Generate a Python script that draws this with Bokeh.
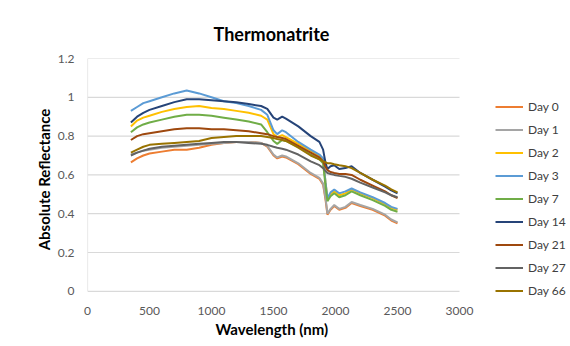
from bokeh.plotting import figure
from bokeh.models import (Legend, LegendItem, FixedTicker, CustomJSTickFormatter, Range1d, Title)
from bokeh.embed import file_html
from bokeh.resources import INLINE

wavelength = [350, 400, 450, 500, 600, 700, 800, 900, 1000, 1100, 1200, 1300, 1400, 1450,
              1500, 1530, 1570, 1600, 1700, 1800, 1870, 1900, 1920, 1935, 1960, 1990,
              2030, 2080, 2130, 2200, 2300, 2400, 2450, 2500]

day0 = [0.665, 0.685, 0.70, 0.71, 0.72, 0.73, 0.73, 0.74, 0.755, 0.765, 0.77, 0.77, 0.765, 0.745,
        0.70, 0.685, 0.695, 0.69, 0.655, 0.605, 0.58, 0.55, 0.47, 0.395, 0.42, 0.44,
        0.42, 0.43, 0.455, 0.44, 0.42, 0.39, 0.365, 0.35]
day1 = [0.705, 0.715, 0.725, 0.73, 0.74, 0.745, 0.75, 0.755, 0.76, 0.765, 0.77, 0.77, 0.765, 0.75,
        0.705, 0.69, 0.70, 0.695, 0.66, 0.61, 0.585, 0.555, 0.48, 0.40, 0.425, 0.445,
        0.425, 0.435, 0.46, 0.445, 0.425, 0.395, 0.37, 0.355]
day2 = [0.85, 0.88, 0.895, 0.905, 0.925, 0.94, 0.95, 0.955, 0.945, 0.94, 0.93, 0.92, 0.905, 0.885,
        0.81, 0.795, 0.805, 0.795, 0.76, 0.725, 0.70, 0.68, 0.56, 0.48, 0.50, 0.515,
        0.495, 0.505, 0.525, 0.505, 0.48, 0.45, 0.43, 0.42]
day3 = [0.93, 0.95, 0.97, 0.98, 1.0, 1.02, 1.035, 1.02, 1.0, 0.98, 0.97, 0.955, 0.935, 0.91,
        0.83, 0.81, 0.83, 0.82, 0.77, 0.73, 0.705, 0.685, 0.56, 0.48, 0.51, 0.525,
        0.505, 0.515, 0.53, 0.51, 0.485, 0.455, 0.435, 0.425]
day7 = [0.82, 0.845, 0.86, 0.87, 0.885, 0.90, 0.91, 0.91, 0.905, 0.895, 0.885, 0.875, 0.86, 0.82,
        0.775, 0.76, 0.78, 0.775, 0.745, 0.705, 0.68, 0.66, 0.54, 0.465, 0.49, 0.505,
        0.485, 0.495, 0.515, 0.495, 0.47, 0.44, 0.42, 0.41]
day14 = [0.87, 0.90, 0.92, 0.935, 0.955, 0.975, 0.99, 0.99, 0.985, 0.98, 0.975, 0.965, 0.955, 0.94,
         0.895, 0.885, 0.90, 0.89, 0.85, 0.80, 0.77, 0.73, 0.66, 0.63, 0.645, 0.65,
         0.63, 0.635, 0.645, 0.61, 0.575, 0.54, 0.52, 0.505]
day21 = [0.78, 0.80, 0.81, 0.815, 0.825, 0.835, 0.84, 0.84, 0.835, 0.835, 0.83, 0.825, 0.815, 0.81,
         0.80, 0.795, 0.79, 0.785, 0.75, 0.715, 0.69, 0.67, 0.64, 0.625, 0.615, 0.61,
         0.605, 0.605, 0.60, 0.575, 0.545, 0.515, 0.495, 0.48]
day27 = [0.70, 0.715, 0.725, 0.735, 0.745, 0.75, 0.755, 0.76, 0.765, 0.77, 0.77, 0.765, 0.76, 0.755,
         0.745, 0.74, 0.735, 0.73, 0.705, 0.67, 0.65, 0.635, 0.62, 0.61, 0.605, 0.60,
         0.595, 0.59, 0.58, 0.56, 0.535, 0.51, 0.495, 0.485]
day66 = [0.715, 0.73, 0.745, 0.755, 0.76, 0.765, 0.77, 0.775, 0.79, 0.795, 0.80, 0.80, 0.80, 0.795,
         0.79, 0.785, 0.78, 0.775, 0.74, 0.70, 0.68, 0.67, 0.665, 0.66, 0.66, 0.655,
         0.65, 0.645, 0.635, 0.61, 0.575, 0.545, 0.525, 0.51]

series_names = ["Day 0", "Day 1", "Day 2", "Day 3", "Day 7", "Day 14", "Day 21", "Day 27", "Day 66"]
series_values = [day0, day1, day2, day3, day7, day14, day21, day27, day66]
colors = ["#ED7D31", "#A5A5A5", "#FFC000", "#5B9BD5", "#70AD47", "#264478", "#9E480E", "#636363", "#997300"]

x_ticks = [0, 500, 1000, 1500, 2000, 2500, 3000]
y_ticks = [0, 0.2, 0.4, 0.6, 0.8, 1.0, 1.2]

FONT = "Lato"
X_MAX = 3000
Y_MAX = 1.2
# The plot frame also covers the legend area (right and a little below the axis).
# Axis scales: 0.124 px per nm, 194 px per reflectance unit.
FRAME_W = 570 - 87
FRAME_H = 300 - 58
x_end = FRAME_W / 0.124
y_start = Y_MAX - FRAME_H / 194.0

p = figure(width=570, height=346, output_backend="svg", toolbar_location=None,
           x_range=Range1d(0, x_end), y_range=Range1d(y_start, Y_MAX),
           min_border_left=87, min_border_right=0, min_border_top=58, min_border_bottom=46)
p.outline_line_color = None
p.background_fill_color = "white"
p.border_fill_color = "white"

p.title.text = "Thermonatrite"
p.title.align = "left"
p.title.offset = 126
p.title.text_font = FONT
p.title.text_font_size = "18px"
p.title.text_font_style = "bold"
p.title.text_color = "#000000"
p.title.standoff = 27

p.xgrid.visible = False
p.ygrid.visible = False
# horizontal gridlines over the 0-3000 axis extent, and the vertical axis line
p.segment(x0=[0] * len(y_ticks), x1=[X_MAX] * len(y_ticks), y0=y_ticks, y1=y_ticks,
          line_color="#D9D9D9", line_width=1.2)
p.segment(x0=[0], x1=[0], y0=[0], y1=[Y_MAX], line_color="#D9D9D9", line_width=1.2)

for ax in (p.xaxis[0], p.yaxis[0]):
    ax.major_tick_line_color = None
    ax.minor_tick_line_color = None
    ax.axis_line_color = None
    ax.major_label_text_font = FONT
    ax.major_label_text_font_size = "12px"
    ax.major_label_text_color = "#595959"
    ax.axis_label_text_font = FONT
    ax.axis_label_text_font_size = "15px"
    ax.axis_label_text_font_style = "bold"
    ax.axis_label_text_color = "#000000"

p.xaxis.ticker = FixedTicker(ticks=x_ticks)
p.yaxis.ticker = FixedTicker(ticks=y_ticks)
p.yaxis.formatter = CustomJSTickFormatter(code="return tick.toFixed(1).replace(/\\.0$/, '');")
p.yaxis.axis_label = "Absolute Reflectance"
p.xaxis.major_label_standoff = 0
p.yaxis.major_label_standoff = 7
p.yaxis.axis_label_standoff = 2

p.add_layout(Title(text="Wavelength (nm)", align="left", offset=128, text_font=FONT,
                   text_font_size="15px", text_font_style="bold", text_color="#000000",
                   standoff=1), "below")

items = []
for name, vals, c in zip(series_names, series_values, colors):
    r = p.line(wavelength, vals, line_color=c, line_width=2)
    items.append(LegendItem(label=name, renderers=[r]))

legend = Legend(items=items, location=(408, 0), orientation="vertical",
                margin=0, padding=0, spacing=4, glyph_width=28, glyph_height=19,
                label_height=19, label_standoff=5, label_text_font=FONT,
                label_text_font_size="12px", label_text_color="#404040",
                border_line_color=None, background_fill_alpha=0)
p.add_layout(legend, "center")

open("out.html", "w").write(file_html(p, INLINE))
